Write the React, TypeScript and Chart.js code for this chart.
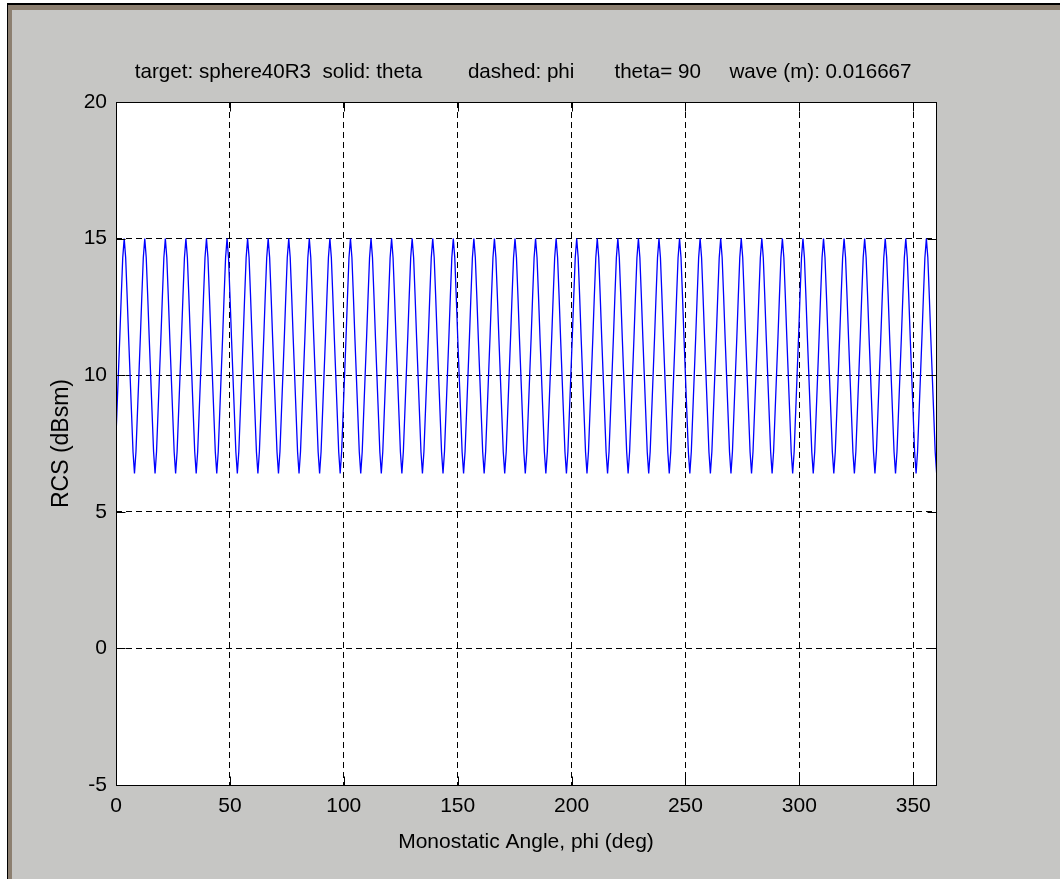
import React, { useEffect, useRef } from "react";
import { Chart, registerables } from "chart.js";

Chart.register(...registerables);

// ---- Text ----
const chartTitle =
  "target: sphere40R3  solid: theta        dashed: phi       theta= 90     wave (m): 0.016667 ";
const xAxisLabel = "Monostatic Angle, phi (deg)";
const yAxisLabel = "RCS (dBsm)";

// ---- Axes ----
const xMin = 0;
const xMax = 360;
const xStep = 50;
const yMin = -5;
const yMax = 20;
const yStep = 5;

// ---- Sampling grid of the monostatic angle (deg) ----
const firstAngleDeg = -0.27;
const angleStepDeg = 0.645;

// ---- RCS, theta polarisation (dBsm), one row per lobe ----
const rcsThetaDb: number[] = [
  7.2, 8.6, 10.0, 11.4, 12.9, 14.3, 15.0, 14.3, 12.9, 11.4, 10.0, 8.6, 7.2, 6.4,
  7.2, 8.6, 10.0, 11.4, 12.9, 14.3, 15.0, 14.3, 12.9, 11.4, 10.0, 8.6, 7.2, 6.4,
  7.2, 8.6, 10.0, 11.4, 12.9, 14.3, 15.0, 14.3, 12.9, 11.4, 10.0, 8.6, 7.2, 6.4,
  7.2, 8.6, 10.0, 11.4, 12.9, 14.3, 15.0, 14.3, 12.9, 11.4, 10.0, 8.6, 7.2, 6.4,
  7.2, 8.6, 10.0, 11.4, 12.9, 14.3, 15.0, 14.3, 12.9, 11.4, 10.0, 8.6, 7.2, 6.4,
  7.2, 8.6, 10.0, 11.4, 12.9, 14.3, 15.0, 14.3, 12.9, 11.4, 10.0, 8.6, 7.2, 6.4,
  7.2, 8.6, 10.0, 11.4, 12.9, 14.3, 15.0, 14.3, 12.9, 11.4, 10.0, 8.6, 7.2, 6.4,
  7.2, 8.6, 10.0, 11.4, 12.9, 14.3, 15.0, 14.3, 12.9, 11.4, 10.0, 8.6, 7.2, 6.4,
  7.2, 8.6, 10.0, 11.4, 12.9, 14.3, 15.0, 14.3, 12.9, 11.4, 10.0, 8.6, 7.2, 6.4,
  7.2, 8.6, 10.0, 11.4, 12.9, 14.3, 15.0, 14.3, 12.9, 11.4, 10.0, 8.6, 7.2, 6.4,
  7.2, 8.6, 10.0, 11.4, 12.9, 14.3, 15.0, 14.3, 12.9, 11.4, 10.0, 8.6, 7.2, 6.4,
  7.2, 8.6, 10.0, 11.4, 12.9, 14.3, 15.0, 14.3, 12.9, 11.4, 10.0, 8.6, 7.2, 6.4,
  7.2, 8.6, 10.0, 11.4, 12.9, 14.3, 15.0, 14.3, 12.9, 11.4, 10.0, 8.6, 7.2, 6.4,
  7.2, 8.6, 10.0, 11.4, 12.9, 14.3, 15.0, 14.3, 12.9, 11.4, 10.0, 8.6, 7.2, 6.4,
  7.2, 8.6, 10.0, 11.4, 12.9, 14.3, 15.0, 14.3, 12.9, 11.4, 10.0, 8.6, 7.2, 6.4,
  7.2, 8.6, 10.0, 11.4, 12.9, 14.3, 15.0, 14.3, 12.9, 11.4, 10.0, 8.6, 7.2, 6.4,
  7.2, 8.6, 10.0, 11.4, 12.9, 14.3, 15.0, 14.3, 12.9, 11.4, 10.0, 8.6, 7.2, 6.4,
  7.2, 8.6, 10.0, 11.4, 12.9, 14.3, 15.0, 14.3, 12.9, 11.4, 10.0, 8.6, 7.2, 6.4,
  7.2, 8.6, 10.0, 11.4, 12.9, 14.3, 15.0, 14.3, 12.9, 11.4, 10.0, 8.6, 7.2, 6.4,
  7.2, 8.6, 10.0, 11.4, 12.9, 14.3, 15.0, 14.3, 12.9, 11.4, 10.0, 8.6, 7.2, 6.4,
  7.2, 8.6, 10.0, 11.4, 12.9, 14.3, 15.0, 14.3, 12.9, 11.4, 10.0, 8.6, 7.2, 6.4,
  7.2, 8.6, 10.0, 11.4, 12.9, 14.3, 15.0, 14.3, 12.9, 11.4, 10.0, 8.6, 7.2, 6.4,
  7.2, 8.6, 10.0, 11.4, 12.9, 14.3, 15.0, 14.3, 12.9, 11.4, 10.0, 8.6, 7.2, 6.4,
  7.2, 8.6, 10.0, 11.4, 12.9, 14.3, 15.0, 14.3, 12.9, 11.4, 10.0, 8.6, 7.2, 6.4,
  7.2, 8.6, 10.0, 11.4, 12.9, 14.3, 15.0, 14.3, 12.9, 11.4, 10.0, 8.6, 7.2, 6.4,
  7.2, 8.6, 10.0, 11.4, 12.9, 14.3, 15.0, 14.3, 12.9, 11.4, 10.0, 8.6, 7.2, 6.4,
  7.2, 8.6, 10.0, 11.4, 12.9, 14.3, 15.0, 14.3, 12.9, 11.4, 10.0, 8.6, 7.2, 6.4,
  7.2, 8.6, 10.0, 11.4, 12.9, 14.3, 15.0, 14.3, 12.9, 11.4, 10.0, 8.6, 7.2, 6.4,
  7.2, 8.6, 10.0, 11.4, 12.9, 14.3, 15.0, 14.3, 12.9, 11.4, 10.0, 8.6, 7.2, 6.4,
  7.2, 8.6, 10.0, 11.4, 12.9, 14.3, 15.0, 14.3, 12.9, 11.4, 10.0, 8.6, 7.2, 6.4,
  7.2, 8.6, 10.0, 11.4, 12.9, 14.3, 15.0, 14.3, 12.9, 11.4, 10.0, 8.6, 7.2, 6.4,
  7.2, 8.6, 10.0, 11.4, 12.9, 14.3, 15.0, 14.3, 12.9, 11.4, 10.0, 8.6, 7.2, 6.4,
  7.2, 8.6, 10.0, 11.4, 12.9, 14.3, 15.0, 14.3, 12.9, 11.4, 10.0, 8.6, 7.2, 6.4,
  7.2, 8.6, 10.0, 11.4, 12.9, 14.3, 15.0, 14.3, 12.9, 11.4, 10.0, 8.6, 7.2, 6.4,
  7.2, 8.6, 10.0, 11.4, 12.9, 14.3, 15.0, 14.3, 12.9, 11.4, 10.0, 8.6, 7.2, 6.4,
  7.2, 8.6, 10.0, 11.4, 12.9, 14.3, 15.0, 14.3, 12.9, 11.4, 10.0, 8.6, 7.2, 6.4,
  7.2, 8.6, 10.0, 11.4, 12.9, 14.3, 15.0, 14.3, 12.9, 11.4, 10.0, 8.6, 7.2, 6.4,
  7.2, 8.6, 10.0, 11.4, 12.9, 14.3, 15.0, 14.3, 12.9, 11.4, 10.0, 8.6, 7.2, 6.4,
  7.2, 8.6, 10.0, 11.4, 12.9, 14.3, 15.0, 14.3, 12.9, 11.4, 10.0, 8.6, 7.2, 6.4,
  7.2, 8.6, 10.0, 11.4, 12.9, 14.3, 15.0, 14.3, 12.9, 11.4, 10.0, 8.6, 7.2, 6.4,
];

const anglesDeg: number[] = rcsThetaDb.map((_, i) => firstAngleDeg + i * angleStepDeg);

const FONT_FAMILY = "'Liberation Sans', Arial, Helvetica, sans-serif";
const CANVAS_W = 1060;
const CANVAS_H = 879;

const matlabAxesPlugin = {
  id: "matlabAxes",
  beforeDraw(chart: any) {
    const { ctx, chartArea: a } = chart;
    ctx.save();
    ctx.fillStyle = "#ffffff";
    ctx.fillRect(a.left, a.top, a.right - a.left, a.bottom - a.top);
    ctx.restore();
  },
  afterDraw(chart: any) {
    const { ctx, chartArea: a, scales } = chart;
    const L = Math.round(a.left) + 0.5;
    const R = Math.round(a.right) + 0.5;
    const T = Math.round(a.top) + 0.5;
    const B = Math.round(a.bottom) + 0.5;
    const tickLen = 9;
    ctx.save();
    ctx.strokeStyle = "#000";
    ctx.lineWidth = 1;
    ctx.setLineDash([]);
    ctx.strokeRect(L, T, R - L, B - T);
    ctx.beginPath();
    for (const t of scales.x.ticks) {
      const px = Math.round(scales.x.getPixelForValue(t.value)) + 0.5;
      ctx.moveTo(px, B);
      ctx.lineTo(px, B - tickLen);
      ctx.moveTo(px, T);
      ctx.lineTo(px, T + tickLen);
    }
    for (const t of scales.y.ticks) {
      const py = Math.round(scales.y.getPixelForValue(t.value)) + 0.5;
      ctx.moveTo(L, py);
      ctx.lineTo(L + tickLen, py);
      ctx.moveTo(R, py);
      ctx.lineTo(R - tickLen, py);
    }
    ctx.stroke();
    ctx.restore();
  },
};

export default function App() {
  const canvasRef = useRef<HTMLCanvasElement | null>(null);

  useEffect(() => {
    document.body.style.margin = "0";
    const canvas = canvasRef.current;
    if (!canvas) return;
    const chart = new Chart(canvas, {
      type: "line",
      data: {
        datasets: [
          {
            label: "theta",
            data: anglesDeg.map((x, i) => ({ x, y: rcsThetaDb[i] })),
            borderColor: "#0000ff",
            borderWidth: 1.3,
            pointRadius: 0,
            tension: 0,
            fill: false,
          },
        ],
      },
      options: {
        animation: false,
        responsive: false,
        devicePixelRatio: 1,
        layout: { padding: { left: 0, top: 0, right: 124, bottom: 0 } },
        plugins: {
          legend: { display: false },
          tooltip: { enabled: false },
          title: {
            display: true,
            text: chartTitle,
            fullSize: false,
            color: "#000",
            font: { family: FONT_FAMILY, size: 20.6, weight: "normal", lineHeight: 1.2 },
            padding: { top: 60, bottom: 17.3 },
          },
        },
        scales: {
          x: {
            type: "linear",
            min: xMin,
            max: xMax,
            afterFit: (scale: any) => {
              scale.height = 94;
            },
            ticks: {
              stepSize: xStep,
              includeBounds: false,
              color: "#000",
              padding: 9,
              maxRotation: 0,
              font: { family: FONT_FAMILY, size: 21 },
            },
            grid: {
              color: "#000",
              lineWidth: 1,
              drawTicks: false,
            },
            border: { display: false, dash: [6, 4] },
            title: {
              display: true,
              text: xAxisLabel,
              color: "#000",
              font: { family: FONT_FAMILY, size: 21 },
              padding: { top: 0, bottom: 24 },
            },
          },
          y: {
            type: "linear",
            min: yMin,
            max: yMax,
            afterFit: (scale: any) => {
              scale.width = 116;
            },
            ticks: {
              stepSize: yStep,
              color: "#000",
              padding: 9,
              font: { family: FONT_FAMILY, size: 21 },
            },
            grid: {
              color: "#000",
              lineWidth: 1,
              drawTicks: false,
            },
            border: { display: false, dash: [6, 4] },
            title: {
              display: true,
              text: yAxisLabel,
              color: "#000",
              font: { family: FONT_FAMILY, size: 23 },
              padding: { top: 48, bottom: 0 },
            },
          },
        },
      },
      plugins: [matlabAxesPlugin],
    });
    return () => chart.destroy();
  }, []);

  return (
    <div style={{ position: "relative", width: CANVAS_W, height: CANVAS_H, background: "#ffffff", overflow: "hidden" }}>
      <div style={{ position: "absolute", left: 7, top: 3, right: 0, bottom: 0, background: "#000000" }} />
      <div style={{ position: "absolute", left: 8, top: 5, right: 0, bottom: 0, background: "#8c7f70" }} />
      <div style={{ position: "absolute", left: 12, top: 10, right: 0, bottom: 0, background: "#c6c6c4" }} />
      <canvas
        ref={canvasRef}
        width={CANVAS_W}
        height={CANVAS_H}
        style={{ position: "absolute", left: 0, top: 0, width: CANVAS_W, height: CANVAS_H }}
      />
    </div>
  );
}
